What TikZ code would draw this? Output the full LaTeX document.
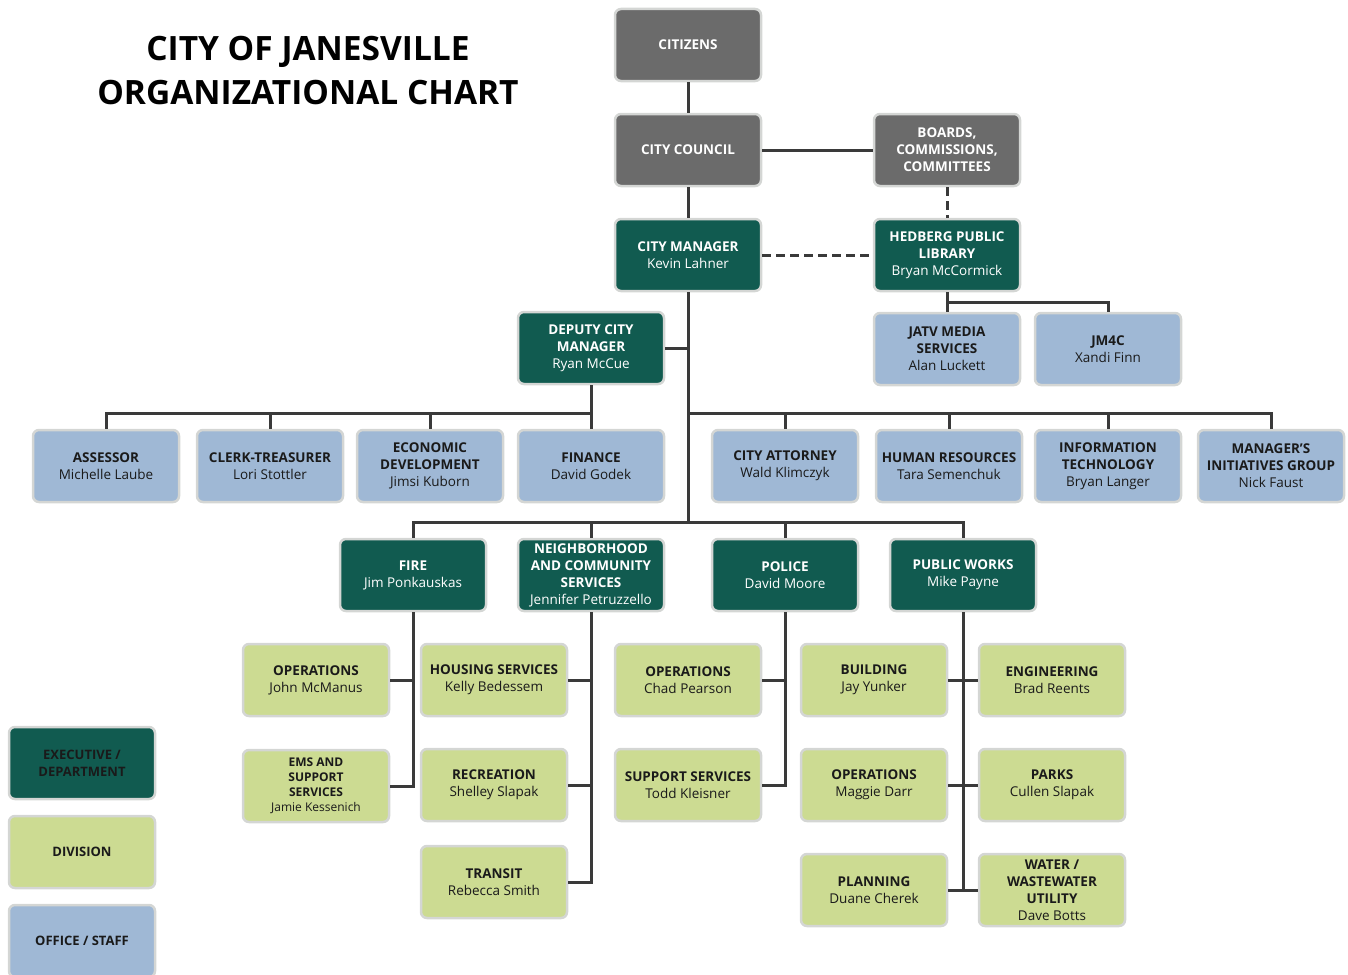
\documentclass[tikz,border=0pt]{standalone}
\usepackage{fontspec}
\setmainfont{Open Sans}
\usetikzlibrary{calc}
\definecolor{execc}{HTML}{115B50}
\definecolor{grayc}{HTML}{6B6B6B}
\definecolor{divc}{HTML}{CCDB92}
\definecolor{offc}{HTML}{9FB8D5}
\definecolor{edgec}{HTML}{D4D6D4}
\definecolor{linec}{HTML}{3A3A3A}
\definecolor{txtc}{HTML}{1A1A1A}
\tikzset{
  box/.style={rounded corners=6pt, draw=edgec, line width=2.5pt, minimum width=146pt, minimum height=72pt,
    align=center, inner sep=1pt, font=\fontsize{13.5}{17}\selectfont},
  execbox/.style={box, fill=execc, text=white},
  graybox/.style={box, fill=grayc, text=white},
  divbox/.style={box, fill=divc, text=txtc},
  offbox/.style={box, fill=offc, text=txtc},
  conn/.style={draw=linec, line width=3pt},
  dconn/.style={conn, dash pattern=on 9pt off 5pt},
}
\begin{document}
\begin{tikzpicture}[x=1pt,y=-1pt]
\useasboundingbox (0,0) rectangle (1348,974);
% title
\node[font=\fontsize{33.5}{44}\selectfont\bfseries, text=black, align=center] (title) at (308,71) {CITY OF JANESVILLE\\ORGANIZATIONAL CHART};
% top
\node[graybox] (cit) at (688,45) {\textbf{CITIZENS}};
\node[graybox] (cc) at (688,150) {\textbf{CITY COUNCIL}};
\node[graybox] (bcc) at (947,150) {\textbf{BOARDS,}\\\textbf{COMMISSIONS,}\\\textbf{COMMITTEES}};
\node[execbox] (cm) at (688,255) {\textbf{CITY MANAGER}\\Kevin Lahner};
\node[execbox] (hed) at (947,255) {\textbf{HEDBERG PUBLIC}\\\textbf{LIBRARY}\\Bryan McCormick};
\node[offbox] (jatv) at (947,349) {\textbf{JATV MEDIA}\\\textbf{SERVICES}\\Alan Luckett};
\node[offbox] (jm4c) at (1108,349) {\textbf{JM4C}\\Xandi Finn};
\node[execbox] (dcm) at (591,348) {\textbf{DEPUTY CITY}\\\textbf{MANAGER}\\Ryan McCue};
% office row
\node[offbox] (ass) at (106,466) {\textbf{ASSESSOR}\\Michelle Laube};
\node[offbox] (clk) at (270,466) {\textbf{CLERK-TREASURER}\\Lori Stottler};
\node[offbox] (eco) at (430,466) {\textbf{ECONOMIC}\\\textbf{DEVELOPMENT}\\Jimsi Kuborn};
\node[offbox] (fin) at (591,466) {\textbf{FINANCE}\\David Godek};
\node[offbox] (att) at (785,466) {\textbf{CITY ATTORNEY}\\Wald Klimczyk};
\node[offbox] (hr) at (949,466) {\textbf{HUMAN RESOURCES}\\Tara Semenchuk};
\node[offbox] (it) at (1108,466) {\textbf{INFORMATION}\\\textbf{TECHNOLOGY}\\Bryan Langer};
\node[offbox] (mig) at (1271,466) {\textbf{MANAGER'S}\\\textbf{INITIATIVES GROUP}\\Nick Faust};
% departments
\node[execbox] (fire) at (413,575) {\textbf{FIRE}\\Jim Ponkauskas};
\node[execbox] (ncs) at (591,575) {\textbf{NEIGHBORHOOD}\\\textbf{AND COMMUNITY}\\\textbf{SERVICES}\\Jennifer Petruzzello};
\node[execbox] (pol) at (785,575) {\textbf{POLICE}\\David Moore};
\node[execbox] (pw) at (963,575) {\textbf{PUBLIC WORKS}\\Mike Payne};
% divisions
\node[divbox] (fops) at (316,680) {\textbf{OPERATIONS}\\John McManus};
\node[divbox, font=\fontsize{12}{15}\selectfont] (ems) at (316,786) {\textbf{EMS AND}\\\textbf{SUPPORT}\\\textbf{SERVICES}\\Jamie Kessenich};
\node[divbox] (hous) at (494,680) {\textbf{HOUSING SERVICES}\\Kelly Bedessem};
\node[divbox] (rec) at (494,785) {\textbf{RECREATION}\\Shelley Slapak};
\node[divbox] (tra) at (494,882) {\textbf{TRANSIT}\\Rebecca Smith};
\node[divbox] (pops) at (688,680) {\textbf{OPERATIONS}\\Chad Pearson};
\node[divbox] (sup) at (688,785) {\textbf{SUPPORT SERVICES}\\Todd Kleisner};
\node[divbox] (bld) at (874,680) {\textbf{BUILDING}\\Jay Yunker};
\node[divbox] (wops) at (874,785) {\textbf{OPERATIONS}\\Maggie Darr};
\node[divbox] (pla) at (874,890) {\textbf{PLANNING}\\Duane Cherek};
\node[divbox] (eng) at (1052,680) {\textbf{ENGINEERING}\\Brad Reents};
\node[divbox] (par) at (1052,785) {\textbf{PARKS}\\Cullen Slapak};
\node[divbox] (wat) at (1052,890) {\textbf{WATER /}\\\textbf{WASTEWATER}\\\textbf{UTILITY}\\Dave Botts};
% legend
\node[execbox, text=txtc, font=\fontsize{13}{17}\selectfont] (lex) at (82,763) {\textbf{EXECUTIVE /}\\\textbf{DEPARTMENT}};
\node[divbox, font=\fontsize{13}{17}\selectfont] (ldiv) at (82,852) {\textbf{DIVISION}};
\node[offbox, font=\fontsize{13}{17}\selectfont] (loff) at (82,941) {\textbf{OFFICE / STAFF}};
% connectors
\coordinate (lb) at (591,413);
\coordinate (tb) at (688,522);
\draw[conn] (cit) -- (cc);
\draw[conn] (cc) -- (bcc);
\draw[conn] (cc) -- (cm);
\draw[dconn] (bcc) -- (hed);
\draw[dconn] (cm) -- (hed);
\draw[conn] (hed) -- (jatv);
\draw[conn] (jm4c.north) |- ($(hed.south)!0.5!(jatv.north)$);
\draw[conn] (cm.south) -- (tb);
\draw[conn] (dcm.east) -- (dcm.east -| cm.south);
\draw[conn] (dcm) -- (fin);
\draw[conn] (ass.north) |- (lb);
\draw[conn] (clk.north) -- (clk.north |- lb);
\draw[conn] (eco.north) -- (eco.north |- lb);
\draw[conn] (cm.south |- lb) -| (mig.north);
\draw[conn] (att.north) -- (att.north |- lb);
\draw[conn] (hr.north) -- (hr.north |- lb);
\draw[conn] (it.north) -- (it.north |- lb);
\draw[conn] (fire.north) |- (tb) -| (pw.north);
\draw[conn] (ncs.north) -- (ncs.north |- tb);
\draw[conn] (pol.north) -- (pol.north |- tb);
% fire
\draw[conn] (fire.south) |- (ems.east);
\draw[conn] (fops.east) -- (fops.east -| fire.south);
% ncs
\draw[conn] (ncs.south) |- (tra.east);
\draw[conn] (hous.east) -- (hous.east -| ncs.south);
\draw[conn] (rec.east) -- (rec.east -| ncs.south);
% police
\draw[conn] (pol.south) |- (sup.east);
\draw[conn] (pops.east) -- (pops.east -| pol.south);
% public works
\draw[conn] (pw.south) -- (pw.south |- pla.east);
\draw[conn] (bld.east) -- (eng.west);
\draw[conn] (wops.east) -- (par.west);
\draw[conn] (pla.east) -- (wat.west);
\end{tikzpicture}
\end{document}
